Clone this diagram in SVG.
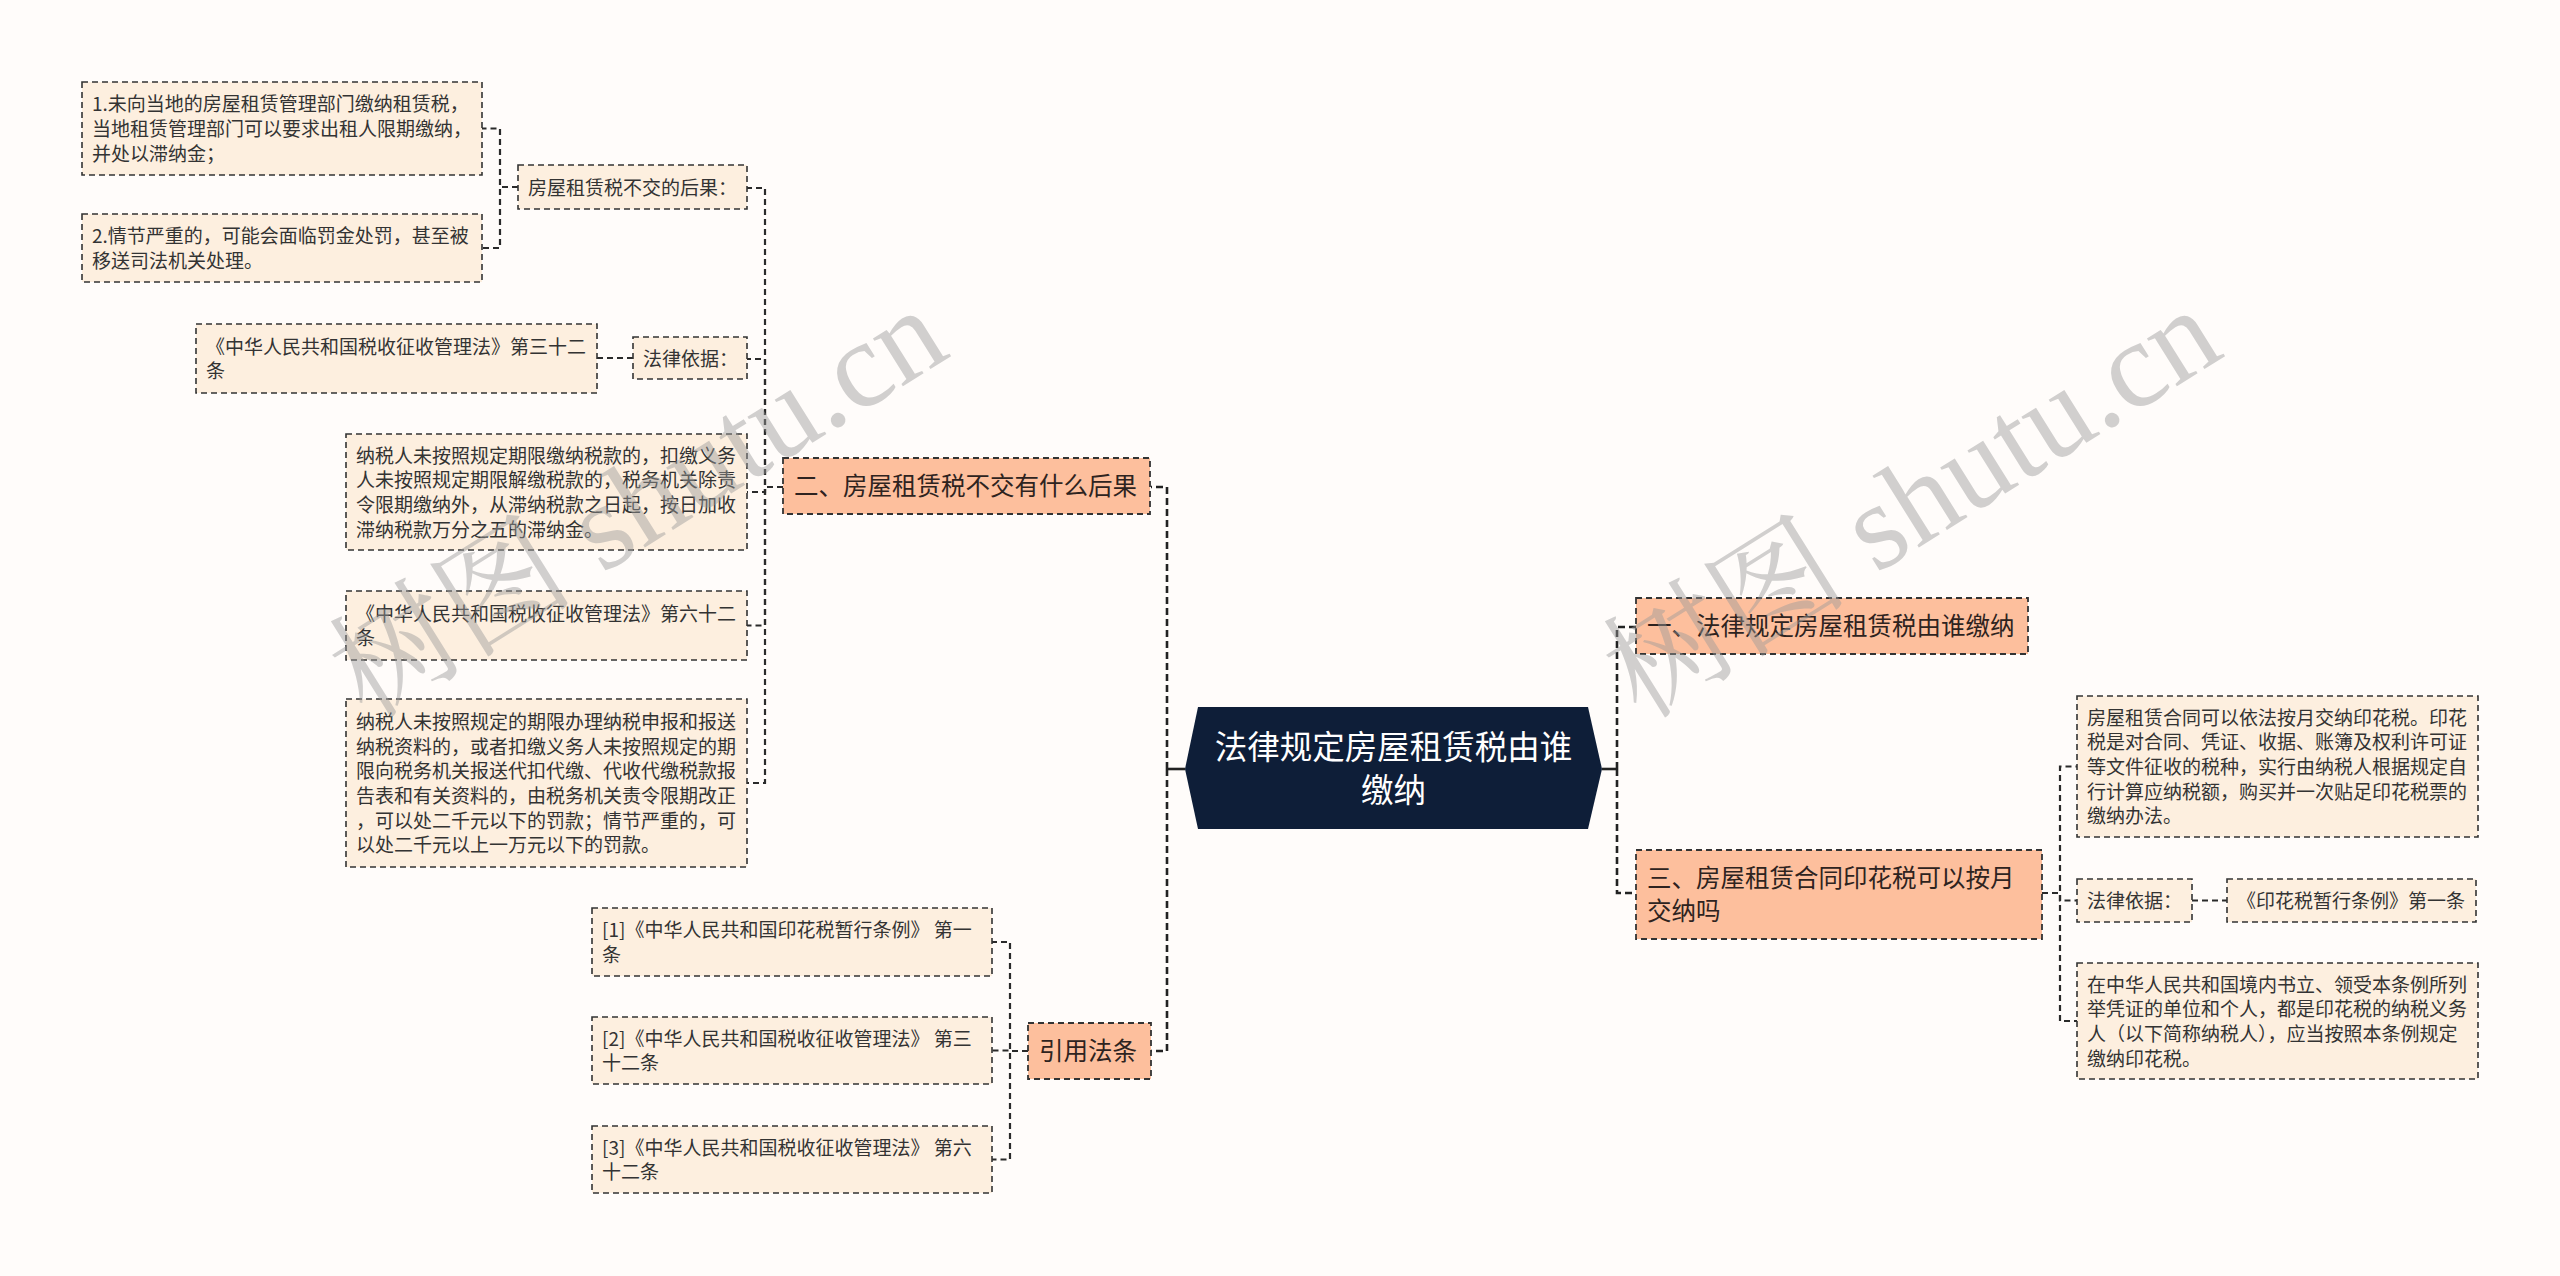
<svg xmlns="http://www.w3.org/2000/svg" width="2560" height="1276" viewBox="0 0 2560 1276">
<style>
.bg{fill:#FFFCFA}
.l3{fill:#FDEFDF;stroke:#333;stroke-width:1.6;stroke-dasharray:6 4}
.l2{fill:#FDBF9D;stroke:#333;stroke-width:1.8;stroke-dasharray:6 4}
.t3{font-family:"Noto Sans CJK SC","Microsoft YaHei",sans-serif;font-size:19px;fill:#333}
.t2{font-family:"Noto Sans CJK SC","Microsoft YaHei",sans-serif;font-size:24.5px;fill:#2e2320}
.t1{font-family:"Noto Sans CJK SC","Microsoft YaHei",sans-serif;font-size:32.5px;fill:#fff;text-anchor:middle}
.c{fill:none;stroke:#2a2a2a;stroke-width:2.2;stroke-dasharray:6 4}
.c1{fill:none;stroke:#222;stroke-width:2.6;stroke-dasharray:7 4}
.s{fill:none;stroke:#222;stroke-width:2.6}
.wm{font-family:"Liberation Serif","Noto Serif CJK SC","Noto Sans CJK SC",serif;font-size:123px;fill:#9a9a9a;opacity:0.45}
</style>
<rect class="bg" x="0" y="0" width="2560" height="1276"/>

<g id="connectors">
  <path class="s" d="M1185,769 H1167"/>
  <path class="s" d="M1602,769 H1617"/>
  <path class="c1" d="M1167,769 V487 H1151"/>
  <path class="c1" d="M1167,769 V1051 H1151"/>
  <path class="c1" d="M1617,769 V627 H1636"/>
  <path class="c1" d="M1617,769 V893 H1636"/>
  <path class="c" d="M783,487 H765 V188 H747"/>
  <path class="c" d="M783,487 H765 V359 H747"/>
  <path class="c" d="M783,487 H765 V492 H747"/>
  <path class="c" d="M783,487 H765 V625.5 H747"/>
  <path class="c" d="M783,487 H765 V783 H747"/>
  <path class="c" d="M518,187 H500 V128.5 H482"/>
  <path class="c" d="M518,187 H500 V248 H482"/>
  <path class="c" d="M633,358 H597"/>
  <path class="c" d="M1028,1051 H1010 V942 H992"/>
  <path class="c" d="M1028,1051 H1010 V1050.5 H992"/>
  <path class="c" d="M1028,1051 H1010 V1159.5 H992"/>
  <path class="c" d="M2042,893 H2060 V766.5 H2077"/>
  <path class="c" d="M2042,893 H2060 V900.5 H2077"/>
  <path class="c" d="M2042,893 H2060 V1021 H2077"/>
  <path class="c" d="M2192,900.5 H2227"/>
</g>

<g id="center">
  <polygon points="1198,707 1588,707 1602,769 1588,829 1198,829 1185,769" fill="#0E1E38"/>
  <text class="t1" x="1393.5" y="758.7">法律规定房屋租赁税由谁</text>
  <text class="t1" x="1393.5" y="801.7">缴纳</text>
</g>

<g id="n2">
  <rect class="l2" x="783" y="458" width="367" height="56"/>
  <text class="t2" x="794" y="494.8">二、房屋租赁税不交有什么后果</text>
</g>
<g id="n2a">
  <rect class="l3" x="518" y="165" width="229" height="44"/>
  <text class="t3" x="528" y="194.5">房屋租赁税不交的后果：</text>
</g>
<g id="n2a1">
  <rect class="l3" x="82" y="82" width="400" height="93"/>
  <text class="t3" x="92" y="111.3">1.未向当地的房屋租赁管理部门缴纳租赁税，</text>
  <text class="t3" x="92" y="136">当地租赁管理部门可以要求出租人限期缴纳，</text>
  <text class="t3" x="92" y="160.7">并处以滞纳金；</text>
</g>
<g id="n2a2">
  <rect class="l3" x="82" y="214" width="400" height="68"/>
  <text class="t3" x="92" y="243.2">2.情节严重的，可能会面临罚金处罚，甚至被</text>
  <text class="t3" x="92" y="267.9">移送司法机关处理。</text>
</g>
<g id="n2b">
  <rect class="l3" x="633" y="337" width="114" height="42"/>
  <text class="t3" x="643" y="365.5">法律依据：</text>
</g>
<g id="n2b1">
  <rect class="l3" x="196" y="324" width="401" height="69"/>
  <text class="t3" x="206" y="353.7">《中华人民共和国税收征收管理法》第三十二</text>
  <text class="t3" x="206" y="378.4">条</text>
</g>
<g id="n2c">
  <rect class="l3" x="346" y="434" width="401" height="116"/>
  <text class="t3" x="356" y="462.5">纳税人未按照规定期限缴纳税款的，扣缴义务</text>
  <text class="t3" x="356" y="487.2">人未按照规定期限解缴税款的，税务机关除责</text>
  <text class="t3" x="356" y="511.9">令限期缴纳外，从滞纳税款之日起，按日加收</text>
  <text class="t3" x="356" y="536.6">滞纳税款万分之五的滞纳金。</text>
</g>
<g id="n2d">
  <rect class="l3" x="346" y="591" width="401" height="69"/>
  <text class="t3" x="356" y="620.7">《中华人民共和国税收征收管理法》第六十二</text>
  <text class="t3" x="356" y="645.4">条</text>
</g>
<g id="n2e">
  <rect class="l3" x="346" y="699" width="401" height="168"/>
  <text class="t3" x="356" y="728.8">纳税人未按照规定的期限办理纳税申报和报送</text>
  <text class="t3" x="356" y="753.5">纳税资料的，或者扣缴义务人未按照规定的期</text>
  <text class="t3" x="356" y="778.2">限向税务机关报送代扣代缴、代收代缴税款报</text>
  <text class="t3" x="356" y="802.9">告表和有关资料的，由税务机关责令限期改正</text>
  <text class="t3" x="356" y="827.6">，可以处二千元以下的罚款；情节严重的，可</text>
  <text class="t3" x="356" y="852.3">以处二千元以上一万元以下的罚款。</text>
</g>

<g id="nref">
  <rect class="l2" x="1028" y="1023" width="123" height="56"/>
  <text class="t2" x="1039" y="1059.8">引用法条</text>
</g>
<g id="ref1">
  <rect class="l3" x="592" y="908" width="400" height="68"/>
  <text class="t3" x="602" y="937.2">[1]《中华人民共和国印花税暂行条例》 第一</text>
  <text class="t3" x="602" y="961.9">条</text>
</g>
<g id="ref2">
  <rect class="l3" x="592" y="1017" width="400" height="67"/>
  <text class="t3" x="602" y="1045.7">[2]《中华人民共和国税收征收管理法》 第三</text>
  <text class="t3" x="602" y="1070.4">十二条</text>
</g>
<g id="ref3">
  <rect class="l3" x="592" y="1126" width="400" height="67"/>
  <text class="t3" x="602" y="1154.7">[3]《中华人民共和国税收征收管理法》 第六</text>
  <text class="t3" x="602" y="1179.4">十二条</text>
</g>

<g id="n1">
  <rect class="l2" x="1636" y="598" width="392" height="56"/>
  <text class="t2" x="1647" y="634.8">一、法律规定房屋租赁税由谁缴纳</text>
</g>
<g id="n3">
  <rect class="l2" x="1636" y="850" width="406" height="89"/>
  <text class="t2" x="1647" y="886.8">三、房屋租赁合同印花税可以按月</text>
  <text class="t2" x="1647" y="919.8">交纳吗</text>
</g>
<g id="n3a">
  <rect class="l3" x="2077" y="696" width="401" height="141"/>
  <text class="t3" x="2087" y="724.6">房屋租赁合同可以依法按月交纳印花税。印花</text>
  <text class="t3" x="2087" y="749.3">税是对合同、凭证、收据、账簿及权利许可证</text>
  <text class="t3" x="2087" y="774">等文件征收的税种，实行由纳税人根据规定自</text>
  <text class="t3" x="2087" y="798.7">行计算应纳税额，购买并一次贴足印花税票的</text>
  <text class="t3" x="2087" y="823.4">缴纳办法。</text>
</g>
<g id="n3b">
  <rect class="l3" x="2077" y="879" width="115" height="43"/>
  <text class="t3" x="2087" y="908">法律依据：</text>
</g>
<g id="n3b1">
  <rect class="l3" x="2227" y="879" width="249" height="43"/>
  <text class="t3" x="2237" y="908">《印花税暂行条例》第一条</text>
</g>
<g id="n3c">
  <rect class="l3" x="2077" y="963" width="401" height="116"/>
  <text class="t3" x="2087" y="991.5">在中华人民共和国境内书立、领受本条例所列</text>
  <text class="t3" x="2087" y="1016.2">举凭证的单位和个人，都是印花税的纳税义务</text>
  <text class="t3" x="2087" y="1040.9">人（以下简称纳税人），应当按照本条例规定</text>
  <text class="t3" x="2087" y="1065.6">缴纳印花税。</text>
</g>

<g id="watermarks">
  <text class="wm" x="660" y="538" text-anchor="middle" transform="rotate(-32 660 538)">树图 shutu.cn</text>
  <text class="wm" x="1934" y="538" text-anchor="middle" transform="rotate(-32 1934 538)">树图 shutu.cn</text>
</g>
</svg>
